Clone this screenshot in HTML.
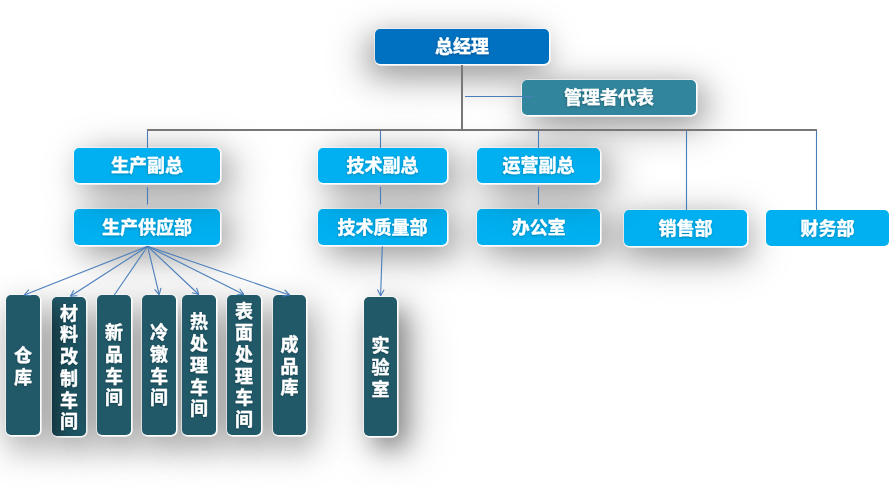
<!DOCTYPE html>
<html lang="zh"><head><meta charset="utf-8"><title>组织架构图</title>
<style>
html,body{margin:0;padding:0;background:#fff}
body{width:895px;height:486px;overflow:hidden;position:relative;font-family:"Liberation Sans",sans-serif}
#c{position:absolute;left:0;top:0;width:895px;height:486px;overflow:hidden;background:#fff}
.bx{position:absolute;border-radius:5px;overflow:visible}
.bx span{position:absolute;left:0;top:0;width:100%;height:100%;overflow:hidden;color:transparent;font-size:18px;line-height:35px;font-weight:bold;text-align:center;white-space:nowrap;user-select:none}
.vt span{writing-mode:vertical-rl;line-height:34px}
#v2::before{content:"";position:absolute;left:0;top:0;right:0;bottom:0;border-radius:5px;background:linear-gradient(90deg,rgba(0,0,0,.25),rgba(0,0,0,.10) 30%,rgba(0,0,0,0) 62%);-webkit-mask-image:linear-gradient(180deg,transparent 0,#000 22%);mask-image:linear-gradient(180deg,transparent 0,#000 22%)}
svg{position:absolute;left:0;top:0}
#sb3{left:74px;top:209px;width:146px;height:36px;box-shadow:6px 7px 24px rgba(0,0,0,.13), 11px 9px 42px rgba(0,0,0,.40)}
#sb5{left:318px;top:209px;width:129px;height:36px;box-shadow:6px 7px 24px rgba(0,0,0,.13), 11px 9px 42px rgba(0,0,0,.40)}
#sb7{left:477px;top:209px;width:123px;height:36px;box-shadow:6px 7px 24px rgba(0,0,0,.13), 11px 9px 42px rgba(0,0,0,.40)}
#sb8{left:624px;top:210px;width:123px;height:36px;box-shadow:1px 8px 24px rgba(0,0,0,.14), 2px 11px 42px rgba(0,0,0,.40)}
#b3{left:74px;top:209px;width:146px;height:36px;background:#00B0F0;box-shadow:.55px .55px 0 1.1px rgba(255,255,255,.95)}
#b5{left:318px;top:209px;width:129px;height:36px;background:#00B0F0;box-shadow:.55px .55px 0 1.1px rgba(255,255,255,.95)}
#b7{left:477px;top:209px;width:123px;height:36px;background:#00B0F0;box-shadow:.55px .55px 0 1.1px rgba(255,255,255,.95)}
#b8{left:624px;top:210px;width:123px;height:36px;background:#00B0F0;box-shadow:.55px .55px 0 1.1px rgba(255,255,255,.95)}
#b9{left:766px;top:210px;width:123px;height:36px;background:#00B0F0;box-shadow:.55px .55px 0 1.1px rgba(255,255,255,.95)}
#sb2{left:74px;top:148px;width:146px;height:35px;box-shadow:6px 7px 24px rgba(0,0,0,.13), 11px 9px 42px rgba(0,0,0,.40)}
#sb4{left:318px;top:148px;width:129px;height:35px;box-shadow:6px 7px 24px rgba(0,0,0,.13), 11px 9px 42px rgba(0,0,0,.40)}
#sb6{left:477px;top:148px;width:123px;height:35px;box-shadow:6px 7px 24px rgba(0,0,0,.13), 11px 9px 42px rgba(0,0,0,.40)}
#b2{left:74px;top:148px;width:146px;height:35px;background:#00B0F0;box-shadow:.55px .55px 0 1.1px rgba(255,255,255,.95)}
#b4{left:318px;top:148px;width:129px;height:35px;background:#00B0F0;box-shadow:.55px .55px 0 1.1px rgba(255,255,255,.95)}
#b6{left:477px;top:148px;width:123px;height:35px;background:#00B0F0;box-shadow:.55px .55px 0 1.1px rgba(255,255,255,.95)}
#sb1{left:522px;top:80px;width:174px;height:35px;box-shadow:5px 6px 24px rgba(0,0,0,.14), 10px 9px 40px rgba(0,0,0,.40)}
#sb0{left:375px;top:29px;width:174px;height:35px;box-shadow:-4px 8px 24px rgba(0,0,0,.14), -8px 11px 40px rgba(0,0,0,.40)}
#b1{left:522px;top:80px;width:174px;height:35px;background:#31859C;box-shadow:.55px .55px 0 1.1px rgba(255,255,255,.95)}
#b0{left:375px;top:29px;width:174px;height:35px;background:#0070C0;box-shadow:.55px .55px 0 1.1px rgba(255,255,255,.95)}
#sv2{left:52px;top:297px;width:34px;height:139px;box-shadow:5px 13px 32px rgba(0,0,0,.33), 8px 14px 52px rgba(0,0,0,.14)}
#v2{left:52px;top:297px;width:34px;height:139px;background:#215968;box-shadow:.55px .55px 0 1.1px rgba(255,255,255,.95)}
#sv1{left:6px;top:295px;width:34px;height:140px;box-shadow:5px 13px 32px rgba(0,0,0,.33), 8px 14px 52px rgba(0,0,0,.14)}
#sv3{left:97px;top:295px;width:34px;height:140px;box-shadow:5px 13px 32px rgba(0,0,0,.33), 8px 14px 52px rgba(0,0,0,.14)}
#sv4{left:142px;top:295px;width:34px;height:140px;box-shadow:5px 13px 32px rgba(0,0,0,.33), 8px 14px 52px rgba(0,0,0,.14)}
#sv5{left:182px;top:295px;width:34px;height:140px;box-shadow:5px 13px 32px rgba(0,0,0,.33), 8px 14px 52px rgba(0,0,0,.14)}
#sv6{left:227px;top:295px;width:34px;height:140px;box-shadow:5px 13px 32px rgba(0,0,0,.33), 8px 14px 52px rgba(0,0,0,.14)}
#sv7{left:273px;top:295px;width:33px;height:140px;box-shadow:5px 13px 32px rgba(0,0,0,.33), 8px 14px 52px rgba(0,0,0,.14)}
#sv8{left:364px;top:297px;width:33px;height:139px;box-shadow:9px 12px 26px rgba(0,0,0,.44), 13px 14px 50px rgba(0,0,0,.22)}
#v1{left:6px;top:295px;width:34px;height:140px;background:#215968;box-shadow:.55px .55px 0 1.1px rgba(255,255,255,.95)}
#v3{left:97px;top:295px;width:34px;height:140px;background:#215968;box-shadow:.55px .55px 0 1.1px rgba(255,255,255,.95)}
#v4{left:142px;top:295px;width:34px;height:140px;background:#215968;box-shadow:.55px .55px 0 1.1px rgba(255,255,255,.95)}
#v5{left:182px;top:295px;width:34px;height:140px;background:#215968;box-shadow:.55px .55px 0 1.1px rgba(255,255,255,.95)}
#v6{left:227px;top:295px;width:34px;height:140px;background:#215968;box-shadow:.55px .55px 0 1.1px rgba(255,255,255,.95)}
#v7{left:273px;top:295px;width:33px;height:140px;background:#215968;box-shadow:.55px .55px 0 1.1px rgba(255,255,255,.95)}
#v8{left:364px;top:297px;width:33px;height:139px;background:#215968;box-shadow:.55px .55px 0 1.1px rgba(255,255,255,.95)}
</style></head><body><div id="c">
<div class="bx" id="sb3"></div>
<div class="bx" id="sb5"></div>
<div class="bx" id="sb7"></div>
<div class="bx" id="sb8"></div>
<div class="bx" id="b3"><span>生产供应部</span></div>
<div class="bx" id="b5"><span>技术质量部</span></div>
<div class="bx" id="b7"><span>办公室</span></div>
<div class="bx" id="b8"><span>销售部</span></div>
<div class="bx" id="b9"><span>财务部</span></div>
<div class="bx" id="sb2"></div>
<div class="bx" id="sb4"></div>
<div class="bx" id="sb6"></div>
<div class="bx" id="b2"><span>生产副总</span></div>
<div class="bx" id="b4"><span>技术副总</span></div>
<div class="bx" id="b6"><span>运营副总</span></div>
<div class="bx" id="sb1"></div>
<div class="bx" id="sb0"></div>
<div class="bx" id="b1"><span>管理者代表</span></div>
<div class="bx" id="b0"><span>总经理</span></div>
<div class="bx" id="sv2"></div>
<div class="bx vt" id="v2"><span>材料改制车间</span></div>
<div class="bx" id="sv1"></div>
<div class="bx" id="sv3"></div>
<div class="bx" id="sv4"></div>
<div class="bx" id="sv5"></div>
<div class="bx" id="sv6"></div>
<div class="bx" id="sv7"></div>
<div class="bx" id="sv8"></div>
<div class="bx vt" id="v1"><span>仓库</span></div>
<div class="bx vt" id="v3"><span>新品车间</span></div>
<div class="bx vt" id="v4"><span>冷镦车间</span></div>
<div class="bx vt" id="v5"><span>热处理车间</span></div>
<div class="bx vt" id="v6"><span>表面处理车间</span></div>
<div class="bx vt" id="v7"><span>成品库</span></div>
<div class="bx vt" id="v8"><span>实验室</span></div>
<svg width="895" height="486" viewBox="0 0 895 486" fill="none" stroke-linecap="butt"><line x1="462.0" y1="65.0" x2="462.0" y2="130.0" stroke="#777777" stroke-width="2"/><line x1="147.0" y1="130.0" x2="817.0" y2="130.0" stroke="#777777" stroke-width="2"/><line x1="465.0" y1="96.5" x2="533.6" y2="96.5" stroke="#4A7EBB" stroke-width="1.1"/><line x1="147.5" y1="131.0" x2="147.5" y2="148.0" stroke="#4A7EBB" stroke-width="1.1"/><line x1="147.5" y1="187.2" x2="147.5" y2="204.6" stroke="#4A7EBB" stroke-width="1.1"/><line x1="380.5" y1="131.0" x2="380.5" y2="148.0" stroke="#4A7EBB" stroke-width="1.1"/><line x1="380.5" y1="187.0" x2="380.5" y2="204.5" stroke="#4A7EBB" stroke-width="1.1"/><line x1="538.5" y1="131.0" x2="538.5" y2="148.0" stroke="#4A7EBB" stroke-width="1.1"/><line x1="538.5" y1="187.0" x2="538.5" y2="204.8" stroke="#4A7EBB" stroke-width="1.1"/><line x1="686.5" y1="131.0" x2="686.5" y2="210.0" stroke="#4A7EBB" stroke-width="1.1"/><line x1="816.5" y1="131.0" x2="816.5" y2="210.0" stroke="#4A7EBB" stroke-width="1.1"/><line x1="147.6" y1="246.3" x2="24.3" y2="295.0" stroke="#4A7EBB" stroke-width="1.1"/><line x1="24.3" y1="295.0" x2="28.8" y2="289.7" stroke="#4A7EBB" stroke-width="1.1"/><line x1="24.3" y1="295.0" x2="31.3" y2="295.8" stroke="#4A7EBB" stroke-width="1.1"/><line x1="147.6" y1="246.3" x2="70.4" y2="296.3" stroke="#4A7EBB" stroke-width="1.1"/><line x1="70.4" y1="296.3" x2="73.8" y2="290.2" stroke="#4A7EBB" stroke-width="1.1"/><line x1="70.4" y1="296.3" x2="77.4" y2="295.7" stroke="#4A7EBB" stroke-width="1.1"/><line x1="147.6" y1="246.3" x2="114.3" y2="295.0" stroke="#4A7EBB" stroke-width="1.1"/><line x1="147.6" y1="246.3" x2="159.2" y2="294.6" stroke="#4A7EBB" stroke-width="1.1"/><line x1="159.2" y1="294.6" x2="154.6" y2="289.4" stroke="#4A7EBB" stroke-width="1.1"/><line x1="159.2" y1="294.6" x2="161.0" y2="287.8" stroke="#4A7EBB" stroke-width="1.1"/><line x1="147.6" y1="246.3" x2="198.8" y2="294.5" stroke="#4A7EBB" stroke-width="1.1"/><line x1="198.8" y1="294.5" x2="192.0" y2="292.7" stroke="#4A7EBB" stroke-width="1.1"/><line x1="198.8" y1="294.5" x2="196.6" y2="287.9" stroke="#4A7EBB" stroke-width="1.1"/><line x1="147.6" y1="246.3" x2="243.8" y2="294.5" stroke="#4A7EBB" stroke-width="1.1"/><line x1="243.8" y1="294.5" x2="236.8" y2="294.7" stroke="#4A7EBB" stroke-width="1.1"/><line x1="243.8" y1="294.5" x2="239.7" y2="288.8" stroke="#4A7EBB" stroke-width="1.1"/><line x1="147.6" y1="246.3" x2="289.5" y2="295.0" stroke="#4A7EBB" stroke-width="1.1"/><line x1="289.5" y1="295.0" x2="282.6" y2="296.1" stroke="#4A7EBB" stroke-width="1.1"/><line x1="289.5" y1="295.0" x2="284.7" y2="289.9" stroke="#4A7EBB" stroke-width="1.1"/><line x1="382.3" y1="246.2" x2="380.6" y2="295.8" stroke="#4A7EBB" stroke-width="1.1"/><line x1="380.6" y1="295.8" x2="377.5" y2="289.5" stroke="#4A7EBB" stroke-width="1.1"/><line x1="380.6" y1="295.8" x2="384.1" y2="289.7" stroke="#4A7EBB" stroke-width="1.1"/></svg>
<svg width="895" height="486" viewBox="0 0 895 486"><defs><filter id="ts" x="-20%" y="-20%" width="140%" height="140%"><feDropShadow dx="-0.3" dy="0.8" stdDeviation="0.8" flood-color="#000" flood-opacity="0.3"/></filter></defs><g fill="#fff" stroke="#fff" stroke-width="0.36" stroke-linejoin="round" filter="url(#ts)" font-family="&quot;Liberation Sans&quot;, &quot;Noto Sans CJK SC&quot;, sans-serif" font-size="18" font-weight="bold">
<text x="102.01" y="233.83">生产供应部</text>
<text x="337.54" y="233.91">技术质量部</text>
<text x="511.79" y="233.90">办公室</text>
<text x="658.60" y="234.89">销售部</text>
<text x="800.55" y="234.93">财务部</text>
<text x="110.94" y="172.27">生产副总</text>
<text x="346.46" y="172.36">技术副总</text>
<text x="502.49" y="172.26">运营副总</text>
<text x="563.96" y="104.39">管理者代表</text>
<text x="434.95" y="53.47">总经理</text>
<text text-anchor="middle" x="69.03 69.03 69.03 69.03 69.03 69.03" y="319.71 341.41 363.11 384.81 406.51 428.21">材料改制车间</text>
<text text-anchor="middle" x="22.98 22.98" y="361.80 383.50">仓库</text>
<text text-anchor="middle" x="114.06 114.06 114.06 114.06" y="339.35 361.05 382.75 404.45">新品车间</text>
<text text-anchor="middle" x="159.05 159.05 159.05 159.05" y="339.33 361.03 382.73 404.43">冷镦车间</text>
<text text-anchor="middle" x="198.95 198.95 198.95 198.95 198.95" y="328.47 350.17 371.87 393.57 415.27">热处理车间</text>
<text text-anchor="middle" x="243.97 243.97 243.97 243.97 243.97 243.97" y="317.61 339.31 361.01 382.71 404.41 426.11">表面处理车间</text>
<text text-anchor="middle" x="289.60 289.60 289.60" y="350.99 372.69 394.39">成品库</text>
<text text-anchor="middle" x="380.46 380.46 380.46" y="352.30 374.00 395.70">实验室</text>
</g></svg>
</div></body></html>
